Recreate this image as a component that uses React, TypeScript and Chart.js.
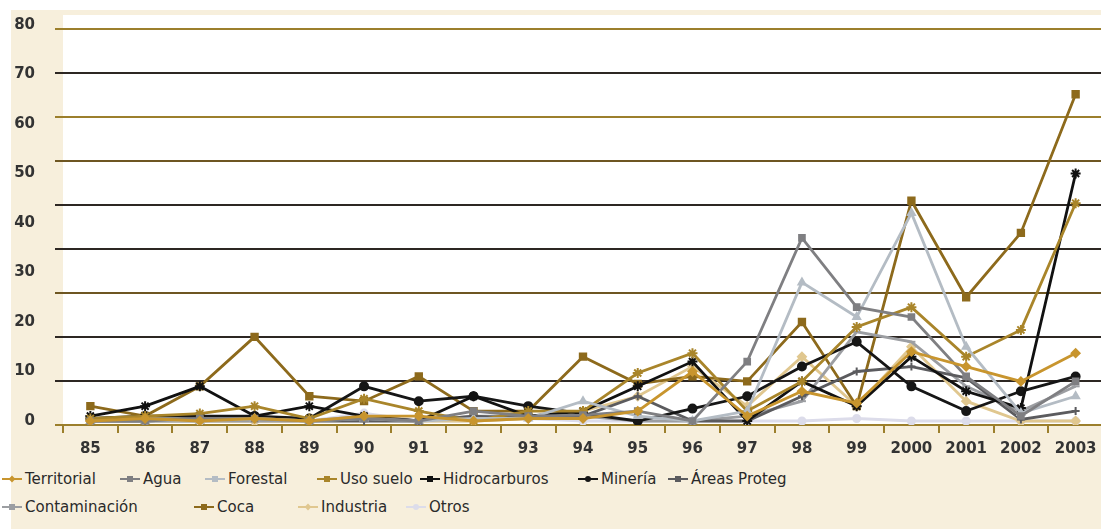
import React, { useEffect, useRef } from "react";
import { Chart, registerables } from "chart.js";

Chart.register(...registerables);

// ---------- data ----------
const categories = ["85", "86", "87", "88", "89", "90", "91", "92", "93", "94", "95", "96", "97", "98", "99", "2000", "2001", "2002", "2003"];
const yTickValues = [0, 10, 20, 30, 40, 50, 60, 70, 80];
const gridLineValues = [0, 1, 2, 3, 4, 5, 6, 7, 8, 9];

const territorial = [0, 0.5, 0, 0.5, 0, 1, 1, 0, 0.5, 0.5, 2, 10, 1, 6, 3.6, 14, 11, 8, 13.7];
const agua = [0, 0, 0.5, 0.5, 0, 0.5, 0, 2, 1, 1.2, 2, 0, 12, 37, 23, 21, 9, 1, 8];
const forestal = [0, 0, 0, 0.5, 0, 0.5, 0, 0.5, 0.5, 4, 1, 0, 2, 28, 21, 42, 15, 1.6, 5];
const usoSuelo = [0.5, 1, 1.5, 3, 0.5, 4.5, 2, 0, 2, 2, 9.7, 13.7, 2, 8, 19, 23, 13, 18.4, 44];
const hidrocarburos = [1, 3, 7, 1, 3, 1, 0, 5, 1, 2, 7, 12, 0, 8, 3, 13, 6, 2.6, 50];
const mineria = [0.5, 1, 1, 1, 0.5, 7, 4, 5, 3, 1.5, 0, 2.5, 5, 11, 16, 7, 2, 6, 9];
const areasProteg = [0, 0, 0.5, 1, 0, 0, 0, 1, 0.5, 1, 5, 0, 0, 5, 10, 11, 8.7, 0.3, 2];
const contaminacion = [0, 0, 0, 0, 0, 1, 0, 1, 1, 1, 0, 0, 1, 4, 18, 16, 7, 2, 7];
const coca = [3, 1, 7, 17, 5, 4, 9, 2, 2, 13, 7.5, 9, 8, 20, 3, 44.5, 25, 38, 66];
const industria = [0, 0, 0, 0, 0, 0.5, 0, 0, 0.5, 2, 5, 11, 3, 13, 3, 15, 4, 0, 0];
const otros = [0, 0, 0, 0, 0, 1.6, 0, 0, 0.5, 0, 0, 0, 0, 0, 0.5, 0, 0, 0, 0];

// ---------- styles ----------
const GOLD = "#9c7f2c";
const DARK = "#2d2723";
const BROWN = "#6e5622";
const gridLineColors = [GOLD, DARK, DARK, BROWN, DARK, DARK, BROWN, GOLD, DARK, GOLD];
const FONT = "'DejaVu Sans', sans-serif";

type Series = { label: string; data: number[]; color: string; point: string; radius: number; row: number; x: number };

const series: Series[] = [
  { label: "Territorial", data: territorial, color: "#c8952e", point: "rectRot", radius: 4, row: 0, x: 2 },
  { label: "Agua", data: agua, color: "#7f7f82", point: "rect", radius: 4, row: 0, x: 120 },
  { label: "Forestal", data: forestal, color: "#b4bcc4", point: "triangle", radius: 4, row: 0, x: 205 },
  { label: "Uso suelo", data: usoSuelo, color: "#a9852a", point: "star", radius: 5, row: 0, x: 317 },
  { label: "Hidrocarburos", data: hidrocarburos, color: "#111111", point: "star", radius: 5, row: 0, x: 420 },
  { label: "Minería", data: mineria, color: "#161616", point: "circle", radius: 4, row: 0, x: 578 },
  { label: "Áreas Proteg", data: areasProteg, color: "#5b5b5e", point: "cross", radius: 4, row: 0, x: 668 },
  { label: "Contaminación", data: contaminacion, color: "#9c9ea2", point: "line", radius: 4, row: 1, x: 2 },
  { label: "Coca", data: coca, color: "#8d6a1c", point: "rect", radius: 4.5, row: 1, x: 194 },
  { label: "Industria", data: industria, color: "#e0c78f", point: "rectRot", radius: 4, row: 1, x: 298 },
  { label: "Otros", data: otros, color: "#dcdcea", point: "circle", radius: 3.5, row: 1, x: 406 },
];

const plotBackground = {
  id: "plotBackground",
  beforeDraw(chart: any) {
    const { ctx, chartArea } = chart;
    ctx.save();
    ctx.fillStyle = "#ffffff";
    ctx.fillRect(chartArea.left, chartArea.top, chartArea.right - chartArea.left, chartArea.bottom - chartArea.top);
    ctx.restore();
  },
};

function LegendMarker({ s }: { s: Series }) {
  return (
    <span style={{ position: "relative", display: "inline-block", width: 20, height: 10, marginRight: 3, verticalAlign: "middle" }}>
      <span style={{ position: "absolute", left: 0, right: 0, top: 4, height: 2, background: s.color }} />
      <span
        style={{
          position: "absolute",
          left: 7,
          top: 2,
          width: 6,
          height: 6,
          background: s.color,
          borderRadius: s.point === "circle" ? 3 : 0,
          transform: s.point === "rectRot" ? "rotate(45deg) scale(0.8)" : "none",
        }}
      />
    </span>
  );
}

export default function App() {
  const canvasRef = useRef<HTMLCanvasElement | null>(null);

  useEffect(() => {
    if (!canvasRef.current) return;
    const chart = new Chart(canvasRef.current, {
      type: "line",
      data: {
        labels: categories,
        datasets: series.map((s) => ({
          label: s.label,
          data: s.data,
          yAxisID: "y",
          borderColor: s.color,
          backgroundColor: s.color,
          borderWidth: 2.8,
          pointStyle: s.point as any,
          pointRadius: s.radius,
          pointBorderColor: s.color,
          pointBackgroundColor: s.color,
          pointBorderWidth: 2,
          tension: 0,
          fill: false,
        })),
      },
      options: {
        animation: false,
        responsive: false,
        maintainAspectRatio: false,
        layout: { padding: { left: 0, top: 15, right: 6, bottom: 0 } },
        plugins: { legend: { display: false }, tooltip: { enabled: false } },
        scales: {
          x: {
            type: "category",
            offset: true,
            grid: { offset: true, drawOnChartArea: false, drawTicks: true, tickLength: 8, color: GOLD, lineWidth: 2 },
            border: { display: true, color: GOLD, width: 2 },
            ticks: { color: "#333333", font: { family: FONT, size: 15, weight: "bold" }, padding: 7, autoSkip: false, maxRotation: 0 },
            afterFit: (s: any) => {
              s.height = 40;
            },
          },
          y: {
            position: "left",
            weight: 1,
            min: -0.81,
            max: 82.02,
            afterBuildTicks: (s: any) => {
              s.ticks = yTickValues.map((v) => ({ value: v }));
            },
            grid: { display: true, drawOnChartArea: false, drawTicks: true, tickLength: 28, color: "rgba(0,0,0,0)" },
            border: { display: false },
            ticks: { color: "#333333", font: { family: FONT, size: 15, weight: "bold" }, padding: 0 },
            afterFit: (s: any) => {
              s.width = 63;
            },
          },
          g: {
            position: "left",
            weight: 0,
            min: 0,
            max: 9.318,
            afterBuildTicks: (s: any) => {
              s.ticks = gridLineValues.map((v) => ({ value: v }));
            },
            grid: {
              color: (ctx: any) => gridLineColors[ctx.index] || DARK,
              lineWidth: 2,
              drawTicks: true,
              tickLength: 8,
            },
            border: { display: false },
            ticks: { display: false },
            afterFit: (s: any) => {
              s.width = 0;
            },
          },
        },
      } as any,
      plugins: [plotBackground],
    });
    return () => chart.destroy();
  }, []);

  return (
    <div style={{ position: "fixed", left: 0, top: 0, width: 1101, height: 529, overflow: "hidden", background: "#ffffff" }}>
      <div style={{ position: "absolute", left: 11, top: 10, right: 0, bottom: 0, background: "#f7efdc" }} />
      <canvas ref={canvasRef} width={1110} height={465} style={{ position: "absolute", left: 0, top: 0, width: 1110, height: 465 }} />
      {series.map((s) => (
        <div
          key={s.label}
          style={{
            position: "absolute",
            left: s.x,
            top: s.row === 0 ? 468 : 496,
            height: 20,
            lineHeight: "20px",
            whiteSpace: "nowrap",
            fontFamily: FONT,
            fontSize: 15,
            color: "#2a2a2a",
          }}
        >
          <LegendMarker s={s} />
          <span style={{ verticalAlign: "middle" }}>{s.label}</span>
        </div>
      ))}
    </div>
  );
}
